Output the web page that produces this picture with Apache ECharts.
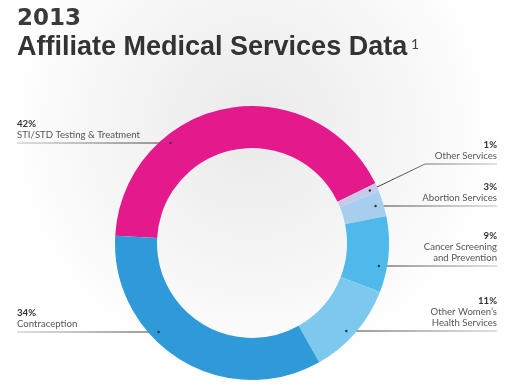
<!DOCTYPE html>
<html><head><meta charset="utf-8">
<script src="https://cdn.jsdelivr.net/npm/echarts@6/dist/echarts.min.js"></script>
<style>html,body{margin:0;padding:0;background:#fff}#c{width:515px;height:389px}</style>
</head><body><div id="c"></div>
<script>
const categories = ['STI/STD Testing & Treatment', 'Other Services', 'Abortion Services', 'Cancer Screening\nand Prevention', 'Other Women\u2019s\nHealth Services', 'Contraception'];
const values = [42, 1, 3, 9, 11, 34];
const palette = ['#e3198c', '#c7c9e8', '#a6cfef', '#4fb9eb', '#7dc9ee', '#2e9ad8'];

// layout of annotations (not data)
const CX = 252, CY = 243, R_IN = 95, R_OUT = 137, R_DOT = 129, START = 177;
const LEFT_X = 17, RIGHT_X = 497;
const labelSpec = [
  {side: 'left', y: 143},
  {side: 'right', y: 164, bendX: 425},
  {side: 'right', y: 206},
  {side: 'right', y: 266},
  {side: 'right', y: 331},
  {side: 'left', y: 332}
];
const total = values.reduce((a, b) => a + b, 0);
function midAngle(i) {
  let before = 0;
  for (let k = 0; k < i; k++) before += values[k];
  return START - (before + values[i] / 2) / total * 360;
}
function linePoints(i) {
  const s = labelSpec[i];
  const edge = s.side === 'left' ? LEFT_X : RIGHT_X;
  let dot, mid;
  if (s.bendX) {
    const a = midAngle(i) * Math.PI / 180;
    dot = [CX + R_DOT * Math.cos(a), CY - R_DOT * Math.sin(a)];
    mid = [s.bendX, s.y];
  } else {
    const dx = Math.sqrt(R_DOT * R_DOT - (s.y - CY) * (s.y - CY));
    dot = [s.side === 'left' ? CX - dx : CX + dx, s.y];
    mid = [(dot[0] + edge) / 2, s.y];
  }
  return [dot, mid, [edge, s.y]];
}
function lineGrad(side) {
  const light = '#c4c4c4', dark = '#333';
  return {
    type: 'linear', x: 0, y: 0, x2: 1, y2: 0,
    colorStops: side === 'left'
      ? [{offset: 0, color: light}, {offset: 1, color: dark}]
      : [{offset: 0, color: dark}, {offset: 1, color: light}]
  };
}

const chart = echarts.init(document.getElementById('c'), null, {renderer: 'canvas'});
const FS = 9.6;
const richBase = {
  pl: {fontFamily: 'Lato', fontWeight: 'bold', fontSize: FS, color: '#333', lineHeight: 11, align: 'left'},
  nl: {fontFamily: 'Lato', fontSize: FS, color: '#555', lineHeight: 11, align: 'left'},
  pr: {fontFamily: 'Lato', fontWeight: 'bold', fontSize: FS, color: '#333', lineHeight: 11, align: 'right'},
  nr: {fontFamily: 'Lato', fontSize: FS, color: '#555', lineHeight: 11, align: 'right'}
};
const dots = labelSpec.map((s, i) => {
  const p = linePoints(i)[0];
  return {type: 'circle', shape: {cx: p[0], cy: p[1], r: 1.2}, style: {fill: '#333'}, z: 100};
});

chart.setOption({
  backgroundColor: {
    type: 'radial', x: 0.49, y: 0.33, r: 0.75,
    colorStops: [{offset: 0, color: '#eaeaea'}, {offset: 0.4, color: '#f3f3f3'}, {offset: 0.85, color: '#ffffff'}, {offset: 1, color: '#ffffff'}]
  },
  graphic: [
    {type: 'text', x: 17, y: 8, style: {text: '2013', font: 'bold 23px "DejaVu Sans"', fill: '#3a3a3a'}},
    {type: 'text', x: 17, y: 34, style: {text: 'Affiliate Medical Services Data', font: 'bold 27px "Liberation Sans"', fill: '#333'}},
    {type: 'text', x: 411, y: 37, style: {text: '1', font: '14px "Lato"', fill: '#444'}}
  ].concat(dots),
  series: [{
    type: 'pie',
    center: [CX, CY],
    radius: [R_IN, R_OUT],
    startAngle: START,
    clockwise: true,
    silent: true,
    data: categories.map((c, i) => ({
      name: c, value: values[i], itemStyle: {color: palette[i]},
      labelLine: {lineStyle: {color: lineGrad(labelSpec[i].side)}}
    })),
    label: {
      show: true,
      position: 'outside',
      overflow: 'none',
      rich: richBase,
      formatter: p => {
        const side = labelSpec[p.dataIndex].side === 'left' ? 'l' : 'r';
        return `{p${side}|${p.value}%}\n` + p.name.split('\n').map(s => `{n${side}|${s}}`).join('\n');
      }
    },
    labelLine: {show: true, smooth: false, lineStyle: {width: 1}},
    labelLayout: params => {
      const i = params.dataIndex;
      const s = labelSpec[i];
      return {
        x: s.side === 'left' ? LEFT_X : RIGHT_X,
        y: s.y - 3,
        align: s.side,
        verticalAlign: 'bottom',
        labelLinePoints: linePoints(i)
      };
    }
  }]
});
</script></body></html>
